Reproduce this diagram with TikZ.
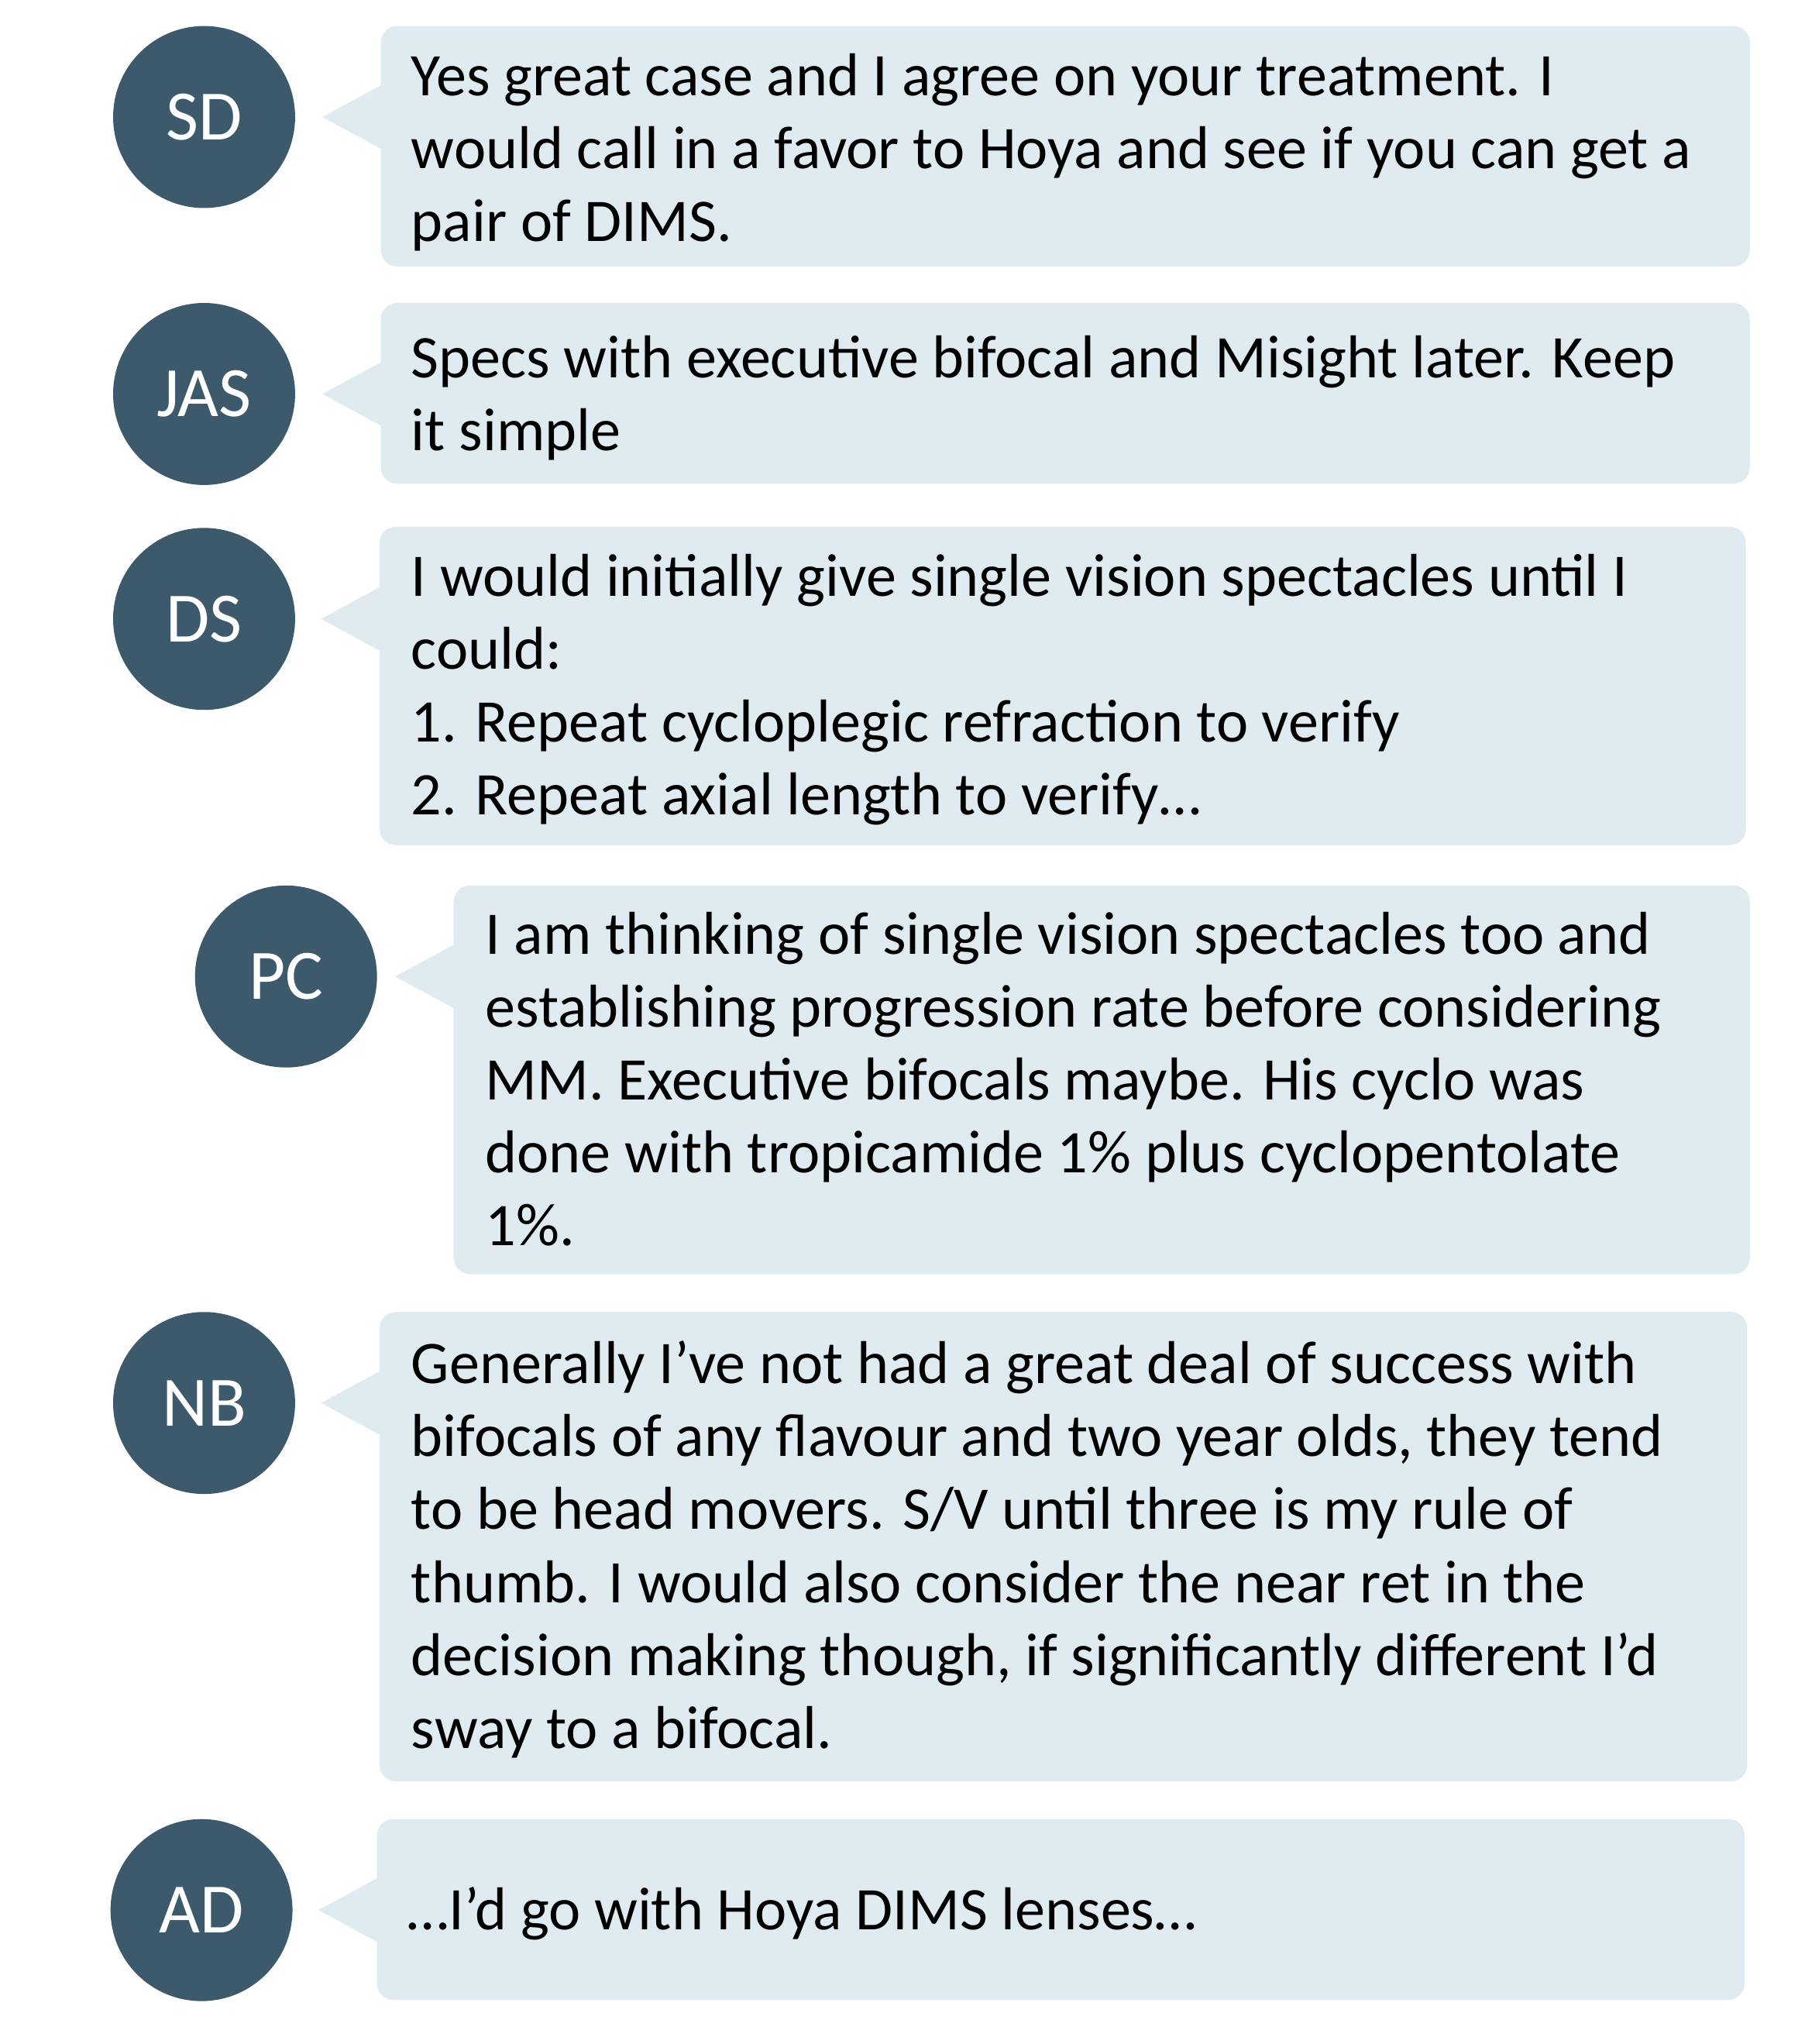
\documentclass[tikz,border=0pt]{standalone}
\usepackage{fontspec}
\setmainfont{Carlito}
\begin{document}
\begin{tikzpicture}[x=0.02cm,y=-0.02cm]
	\definecolor{mycolor}{RGB}{61,90,108}
	\definecolor{mycolor2}{RGB}{223,235,241}
	\tikzset{
		avatar/.style={circle,fill=mycolor,minimum size=2.8cm,inner sep=0pt,text=white,font=\fontsize{31}{36}\selectfont},
		bubble/.style={fill=mycolor2,rounded corners=0.25cm},
		msg/.style={anchor=north west,inner sep=0pt,align=left,font=\fontsize{26.5}{31.9}\selectfont}
	}
	\useasboundingbox (0,0) rectangle (1388,1572);

	\node[avatar] (sd) at (157,90) {SD};
	\fill[bubble] (293,20) rectangle (1346,205);
	\fill[mycolor2] (294,65) -- (248,90) -- (294,115) -- cycle;
	\node[msg] (sdtxt) at (316,41) {Yes great case and I agree on your treatment. I\\would call in a favor to Hoya and see if you can get a\\pair of DIMS.};

	\node[avatar] (jas) at (157,303) {JAS};
	\fill[bubble] (293,233) rectangle (1346,372);
	\fill[mycolor2] (294,278) -- (248,303) -- (294,328) -- cycle;
	\node[msg] (jastxt) at (316,258) {Specs with executive bifocal and Misight later. Keep\\it simple};

	\node[avatar] (ds) at (157,476) {DS};
	\fill[bubble] (292,405) rectangle (1343,650);
	\fill[mycolor2] (293,451) -- (247,476) -- (293,501) -- cycle;
	\node[msg] (dstxt) at (316,426) {I would initially give single vision spectacles until I\\could:\\1. Repeat cycloplegic refraction to verify\\2. Repeat axial length to verify\dots};

	\node[avatar] (pc) at (220,751) {PC};
	\fill[bubble] (349,681) rectangle (1346,980);
	\fill[mycolor2] (350,726) -- (304,751) -- (350,776) -- cycle;
	\node[msg] (pctxt) at (373,701) {I am thinking of single vision spectacles too and\\establishing progression rate before considering\\MM. Executive bifocals maybe. His cyclo was\\done with tropicamide 1\% plus cyclopentolate\\1\%.};

	\node[avatar] (nb) at (157,1079) {NB};
	\fill[bubble] (292,1009) rectangle (1344,1370);
	\fill[mycolor2] (293,1054) -- (247,1079) -- (293,1104) -- cycle;
	\node[msg] (nbtxt) at (316,1031) {Generally I’ve not had a great deal of success with\\bifocals of any flavour and two year olds, they tend\\to be head movers. S/V until three is my rule of\\thumb. I would also consider the near ret in the\\decision making though, if significantly different I’d\\sway to a bifocal.};

	\node[avatar] (ad) at (155,1469) {AD};
	\fill[bubble] (290,1399) rectangle (1342,1538);
	\fill[mycolor2] (291,1444) -- (245,1469) -- (291,1494) -- cycle;
	\node[msg] (adtxt) at (313,1451) {\dots I'd go with Hoya DIMS lenses\dots};
\end{tikzpicture}
\end{document}
